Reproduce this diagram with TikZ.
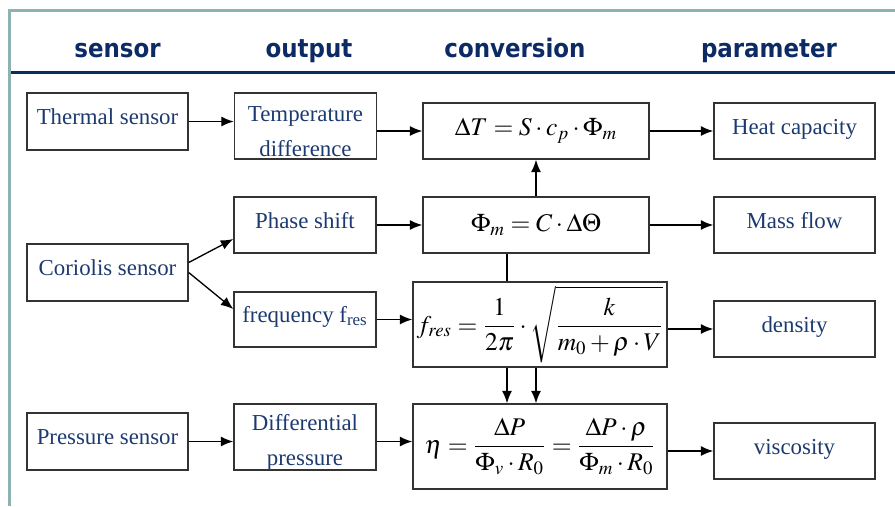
\documentclass[tikz,border=0pt]{standalone}
\usepackage{mathptmx}
\usepackage[no-math]{fontspec}
\setmainfont{Liberation Serif}
\newfontfamily\headfont{DejaVu Sans Condensed}
\usepackage{tikz}
\usetikzlibrary{arrows.meta}

\definecolor{framegray}{RGB}{140,178,178}
\definecolor{headblue}{RGB}{12,42,100}
\definecolor{textblue}{RGB}{28,58,112}

\newcommand{\tallstrut}{\rule{0pt}{0.52cm}}

\tikzset{
    box/.style={draw=black!80, line width=0.8pt, rectangle, inner sep=0pt,
        minimum width=3.22cm, minimum height=1.12cm},
    word/.style={box, text=textblue, font=\fontsize{13}{20}\selectfont},
    oneline/.style={word, text height=0.42cm, text depth=0.3cm},
    twoline/.style={word, align=center, minimum width=2.84cm, minimum height=1.32cm},
    formula/.style={box, font=\fontsize{14.5}{17}\selectfont},
    head/.style={font=\headfont\bfseries\fontsize{14.5}{17}\selectfont, text=headblue, anchor=base},
    >={Latex[length=2.5mm,width=2mm]},
}

\begin{document}
\begin{tikzpicture}
        \useasboundingbox (0,0) rectangle (17.9,-10.12);

        % frame and header
        \draw[framegray, line width=1.7pt] (0.16,-0.21) -- (17.9,-0.21);
        \draw[framegray, line width=1.7pt] (0.19,-0.21) -- (0.19,-10.12);
        \draw[headblue, line width=1.9pt] (0.22,-1.446) -- (17.9,-1.446);

        \node (hsensor) at ( 2.35,-1.14) [head] {sensor};
        \node (houtput) at ( 6.18,-1.14) [head] {output};
        \node (hconv)   at (10.30,-1.14) [head] {conversion};
        \node (hparam)  at (15.38,-1.14) [head] {parameter};

        % sensors
        \node (thermal)  at ( 2.15,-2.43) [oneline, minimum height=1.14cm] {Thermal sensor};
        \node (coriolis) at ( 2.15,-5.45) [oneline, minimum height=1.14cm] {Coriolis sensor};
        \node (pressure) at ( 2.15,-8.83) [oneline, minimum height=1.14cm] {Pressure sensor};

        % outputs
        \node (tempdiff) at ( 6.11,-2.52) [twoline] {\tallstrut Temperature\\difference};
        \node (phase)    at ( 6.10,-4.50) [oneline, minimum width=2.84cm] {Phase shift};
        \node (freq)     at ( 6.10,-6.39) [oneline, minimum width=2.84cm, minimum height=1.10cm] {frequency f\textsubscript{res}};
        \node (diffp)    at ( 6.10,-8.74) [twoline] {\tallstrut Differential\\pressure};

        % conversions
        \node (dT)   at (10.72,-2.62) [formula, minimum width=4.52cm] {$\Delta T = S\cdot c_p\cdot \Phi_m$};
        \node (phim) at (10.72,-4.50) [formula, minimum width=4.52cm] {$\Phi_m = C\cdot \Delta\Theta$};
        \node (fres) at (10.80,-6.49) [formula, minimum width=5.08cm, minimum height=1.70cm]
            {$\displaystyle f_{res} = \frac{1}{2\pi}\cdot\sqrt{\frac{k}{m_0+\rho\cdot V}}$};
        \node (eta)  at (10.80,-8.93) [formula, minimum width=5.08cm, minimum height=1.70cm]
            {$\displaystyle \eta = \frac{\Delta P}{\Phi_v\cdot R_0} = \frac{\Delta P\cdot\rho}{\Phi_m\cdot R_0}$};

        % parameters
        \node (heatcap)  at (15.89,-2.62) [oneline] {Heat capacity};
        \node (massflow) at (15.89,-4.50) [oneline] {Mass flow};
        \node (density)  at (15.89,-6.58) [oneline] {density};
        \node (visc)     at (15.89,-9.02) [oneline] {viscosity};

        \coordinate (tap) at ([xshift=-0.58cm]phim.south);

        \draw[->, line width=0.75pt] (thermal) -- (thermal -| tempdiff.west);
        \draw[->, line width=0.75pt] (tempdiff.east |- dT) -- (dT.west);
        \draw[->, line width=0.75pt] (dT) -- (heatcap);

        \draw[->, line width=0.75pt] ([yshift=0.2cm]coriolis.east) -- ([yshift=-0.28cm]phase.west);
        \draw[->, line width=0.75pt] (coriolis.east) -- ([yshift=0.21cm]freq.west);
        \draw[->, line width=0.75pt] (phase) -- (phim);
        \draw[->, line width=0.75pt] (phim) -- (massflow);
        \draw[->, line width=0.75pt] (phim.north) -- (dT.south);
        \draw[line width=0.75pt] (tap) -- (tap |- fres.north);

        \draw[->, line width=0.75pt] (freq.east) -- (freq.east -| fres.west);
        \draw[->, line width=0.75pt] (fres.east |- density) -- (density.west);
        \draw[->, line width=0.75pt] (tap |- fres.south) -- (tap |- eta.north);
        \draw[->, line width=0.75pt] (fres.south -| phim) -- (eta.north -| phim);

        \draw[->, line width=0.75pt] (pressure) -- (pressure -| diffp.west);
        \draw[->, line width=0.75pt] (diffp.east |- pressure) -- (eta.west |- pressure);
        \draw[->, line width=0.75pt] (eta.east |- visc) -- (visc.west);
    \end{tikzpicture}
\end{document}
